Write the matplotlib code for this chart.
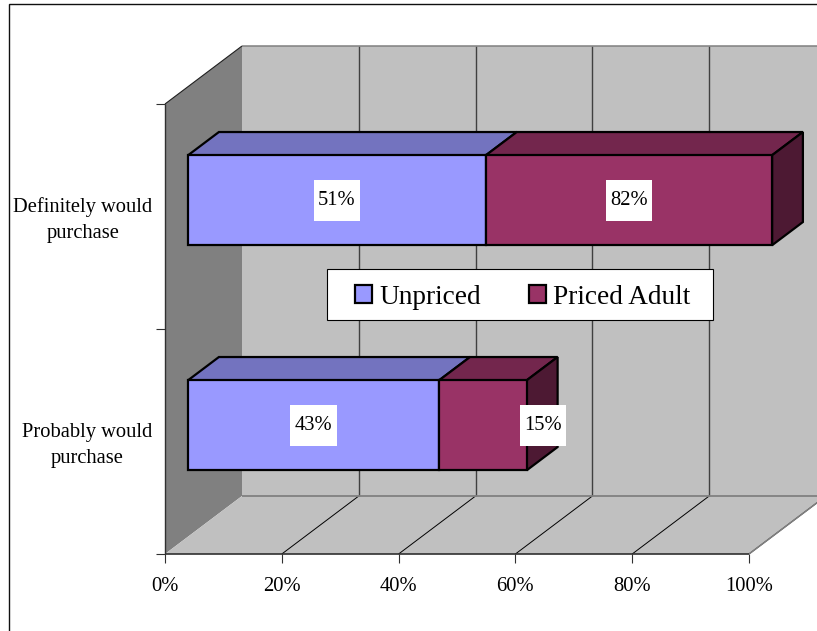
import matplotlib
matplotlib.use("Agg")
import matplotlib.pyplot as plt
from matplotlib.patches import Patch, Polygon, Rectangle

# Survey results, stacked along a percentage axis that stops at 100%
categories = ["Probably would\npurchase", "Definitely would\npurchase"]
unpriced = [43, 51]
priced_adult = [15, 82]
series_names = ["Unpriced", "Priced Adult"]
value_ticks = [0, 20, 40, 60, 80, 100]

W, H = 817, 631
FRONT = ["#9999FF", "#993366"]
TOP = ["#7373BF", "#73264D"]
SIDE = ["#4D1933", "#4D1933"]
WALL_BACK = "#C0C0C0"
WALL_SIDE = "#808080"

plt.rcParams["font.family"] = "Liberation Serif"
fig = plt.figure(figsize=(W / 100, H / 100), dpi=100, facecolor="white")

# Axes rectangle is the front plane of the 3-D box
left, right, top, bottom = 165, 749, 104, 554
ax = fig.add_axes([left / W, 1 - bottom / H, (right - left) / W, (bottom - top) / H])
ax.set_xlim(0, 100)
ax.set_ylim(0, len(categories))
ax.patch.set_visible(False)
for s in ax.spines.values():
    s.set_visible(False)

# Oblique projection: depth 0..1 shifts a point right and up
DX = 77 / ((right - left) / 100)
DY = 58 / ((bottom - top) / len(categories))


def proj(v, c, d=0.0):
    return (v + d * DX, c + d * DY)


def poly(points, **kw):
    kw.setdefault("clip_on", False)
    ax.add_patch(Polygon(points, closed=True, **kw))


def line(p, q, **kw):
    ax.plot(*zip(p, q), clip_on=False, solid_capstyle="butt", **kw)


ncat = len(categories)
# Walls and floor
poly([proj(0, 0, 1), proj(100, 0, 1), proj(100, ncat, 1), proj(0, ncat, 1)],
     fc=WALL_BACK, ec="none", zorder=1)
poly([proj(0, 0), proj(0, 0, 1), proj(0, ncat, 1), proj(0, ncat)],
     fc=WALL_SIDE, ec="none", zorder=1)
poly([proj(0, 0), proj(100, 0), proj(100, 0, 1), proj(0, 0, 1)],
     fc=WALL_BACK, ec="none", zorder=1)

# Gridlines on the floor and the back wall
for v in value_ticks[1:]:
    line(proj(v, 0), proj(v, 0, 1), color="black", lw=0.7, zorder=2)
    line(proj(v, 0, 1), proj(v, ncat, 1), color="#404040", lw=1.0, zorder=2)

# Box edges
line(proj(0, ncat, 1), proj(100, ncat, 1), color=WALL_SIDE, lw=1.1, zorder=2)
line(proj(0, 0, 1), proj(100, 0, 1), color=WALL_SIDE, lw=1.3, zorder=2)
line(proj(100, 0), proj(100, 0, 1), color=WALL_SIDE, lw=1.1, zorder=2)
line(proj(0, ncat), proj(0, ncat, 1), color="#202020", lw=0.8, zorder=2)
line(proj(0, 0), proj(0, ncat), color="#303030", lw=1.0, zorder=3)
line(proj(0, 0), proj(100, 0), color="#303030", lw=1.2, zorder=3)

# Stacked 3-D bars; anything past the end of the axis is cut off at 100%
D0, D1 = 0.3, 0.7
HALF = 0.2
CENTER = 0.495
EDGE = dict(ec="black", lw=1.6, joinstyle="miter", zorder=5)
label_shift = {(0, 1): 60}
for c, vals in enumerate(zip(unpriced, priced_adult)):
    yc = c + CENTER
    start = 0
    for s, val in enumerate(vals):
        a, b = min(start, 100), min(start + val, 100)
        lo, hi = yc - HALF, yc + HALF
        poly([proj(a, hi, D0), proj(a, hi, D1), proj(b, hi, D1), proj(b, hi, D0)],
             fc=TOP[s], **EDGE)
        if start + val >= sum(vals):
            poly([proj(b, lo, D0), proj(b, hi, D0), proj(b, hi, D1), proj(b, lo, D1)],
                 fc=SIDE[s], **EDGE)
        poly([proj(a, lo, D0), proj(b, lo, D0), proj(b, hi, D0), proj(a, hi, D0)],
             fc=FRONT[s], **EDGE)
        ax.annotate(f"{val}%", proj((a + b) / 2, yc, D0),
                    xytext=(label_shift.get((c, s), 0) * 0.72, 0),
                    textcoords="offset points", ha="center", va="center",
                    fontsize=14.8, zorder=7, annotation_clip=False,
                    bbox=dict(boxstyle="square,pad=0.22", fc="white", ec="none",
                              mutation_aspect=2.4))
        start += val

# Axis ticks and labels
ax.set_xticks(value_ticks)
ax.set_xticklabels([f"{v}%" for v in value_ticks], fontsize=14.8)
ax.tick_params(axis="x", length=6.5, width=0.8, color="#303030", pad=10)
ax.set_yticks(range(ncat + 1))
ax.set_yticklabels([""] * (ncat + 1))
ax.tick_params(axis="y", which="major", length=6.5, width=0.8, color="#303030")
ax.set_yticks([c + 0.511 for c in range(ncat)], minor=True)
ax.set_yticklabels(categories, minor=True, fontsize=14.8, ma="center", linespacing=1.53)
ax.tick_params(axis="y", which="minor", length=0, pad=9)

# Legend sits on top of the plot, on its own white panel
ax.add_patch(Rectangle((326.5 / W, 1 - 319.5 / H), 386.5 / W, 51 / H, transform=fig.transFigure,
                       fc="white", ec="black", lw=0.8, clip_on=False, zorder=5.9))
handles = [Patch(fc=FRONT[i], ec="black", lw=1.6, label=series_names[i]) for i in range(2)]
leg = ax.legend(handles=handles, ncols=2, loc="center",
                bbox_to_anchor=(522.5 / W, 1 - 297 / H), bbox_transform=fig.transFigure,
                fontsize=19.6, frameon=False,
                handlelength=0.63, handleheight=0.63, handletextpad=0.27,
                columnspacing=1.75, borderpad=0.5, borderaxespad=0)
leg.set_zorder(6)

# Outer chart frame runs past the right and bottom of the canvas
fig.add_artist(Rectangle((8.5 / W, -0.05), 1.1, 1.05 - 3.5 / H, transform=fig.transFigure,
                         fc="none", ec="#101010", lw=1.0, zorder=10))

fig.savefig("out.png", dpi=100, facecolor="white")
